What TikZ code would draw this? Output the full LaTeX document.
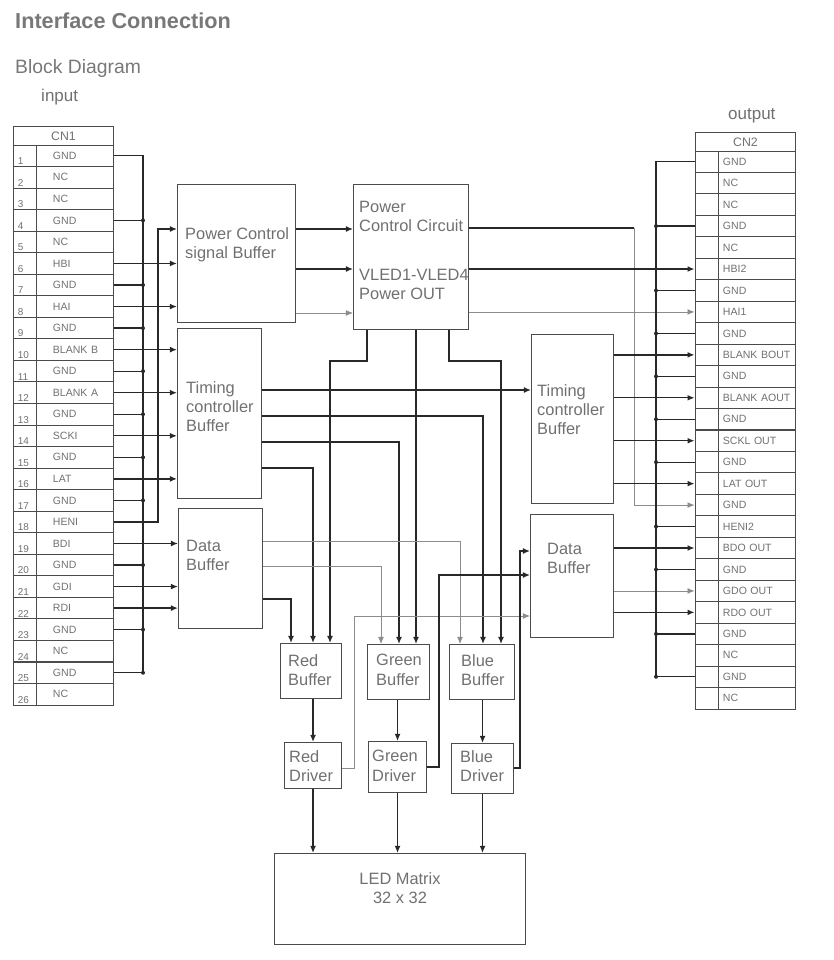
\documentclass[tikz,border=0pt]{standalone}
\usepackage{fontspec}
\setmainfont{Liberation Sans}
\usetikzlibrary{arrows.meta, positioning}
\definecolor{txtgray}{RGB}{112,112,112}
\definecolor{titlegray}{RGB}{120,120,120}
\definecolor{wiregray}{RGB}{40,40,40}
\definecolor{boxgray}{RGB}{75,75,75}
\definecolor{thingray}{RGB}{140,140,140}

\tikzset{
  blk/.style={draw=boxgray, line width=0.9pt, anchor=north west, inner sep=0pt},
  blktxt/.style={font=\fontsize{14}{16.5}\selectfont, text=txtgray, align=left, anchor=north west, inner sep=0pt},
  pinnum/.style={draw=boxgray, line width=0.8pt, minimum width=0.69cm, minimum height=0.645cm, inner sep=0pt},
  numtxt/.style={font=\fontsize{8.5}{10}\selectfont, text=txtgray, inner sep=0pt, anchor=base west},
  pinout/.style={draw=boxgray, line width=0.8pt, minimum height=0.645cm, inner xsep=0.12cm, inner ysep=0pt, text width=2.07cm, align=left, font=\fontsize{9}{10}\selectfont, text=txtgray},
  pinin/.style={pinout, execute at begin node={\hspace*{0.36cm}}},
  cnhead/.style={draw=boxgray, line width=0.8pt, minimum width=3cm, minimum height=0.57cm, inner sep=0pt, anchor=north west, font=\fontsize{10.5}{12}\selectfont, text=txtgray},
  wire/.style={draw=wiregray, line width=1.1pt},
  sig/.style={wire, -{Latex[length=6pt,width=5pt]}},
  sigthin/.style={draw=thingray, line width=0.7pt, -{Latex[length=6pt,width=5pt]}},
}

\begin{document}
\begin{tikzpicture}[x=0.03cm, y=-0.03cm]
  \useasboundingbox (0,0) rectangle (833,960);

  % headings
  \node[font=\bfseries\fontsize{18.5}{20}\selectfont, text=titlegray, anchor=north west, inner sep=0pt] (title) at (15,13) {Interface Connection};
  \node[font=\fontsize{16.5}{18}\selectfont, text=titlegray, anchor=north west, inner sep=0pt] (subtitle) at (15,59) {Block Diagram};
  \node[font=\fontsize{14.5}{16}\selectfont, text=txtgray, anchor=north west, inner sep=0pt] (inlbl) at (41,89) {input};
  \node[font=\fontsize{14.5}{16}\selectfont, text=txtgray, anchor=north west, inner sep=0pt] (outlbl) at (728,108) {output};

  % --- CN1 ---
  \node[cnhead] (cn1) at (13,126) {CN1};
  \foreach \i/\lbl in {1/GND,2/NC,3/NC,4/GND,5/NC,6/HBI,7/GND,8/HAI,9/GND,10/BLANK B,11/GND,12/BLANK A,13/GND,14/SCKI,15/GND,16/LAT,17/GND,18/HENI,19/BDI,20/GND,21/GDI,22/RDI,23/GND,24/NC,25/GND,26/NC}{
    \node[pinnum] (inn\i) at (24.5,{145+21.54*(\i-0.5)}) {};
    \node[numtxt] (innum\i) at ([xshift=0.15cm, yshift=0.07cm]inn\i.south west) {\i};
    \node[pinin, anchor=west] (in\i) at (inn\i.east) {\lbl};
  }

  % --- CN2 ---
  \node[cnhead] (cn2) at (695,132) {CN2};
  \foreach \i/\lbl in {1/GND,2/NC,3/NC,4/GND,5/NC,6/HBI2,7/GND,8/HAI1,9/GND,10/BLANK BOUT,11/GND,12/BLANK AOUT,13/GND,14/SCKL OUT,15/GND,16/LAT OUT,17/GND,18/HENI2,19/BDO OUT,20/GND,21/GDO OUT,22/RDO OUT,23/GND,24/NC,25/GND,26/NC}{
    \node[pinnum] (outn\i) at (706.5,{151+21.46*(\i-0.5)}) {};
    \node[pinout, anchor=west] (out\i) at (outn\i.east) {\lbl};
  }

  % --- blocks ---
  \node[blk, minimum width=3.54cm, minimum height=4.14cm] (pcsb) at (177,184) {};
  \node[blktxt] (pcsbtxt) at (185,227) {Power Control\\signal Buffer};
  \node[blk, minimum width=3.45cm, minimum height=4.35cm] (pcc) at (353,184) {};
  \node[blktxt] (pcctxt) at (359,201) {Power\\Control Circuit};
  \node[blktxt] (vledtxt) at (359,269) {VLED1-VLED4\\Power OUT};

  \node[blk, minimum width=2.52cm, minimum height=5.1cm] (tmgin) at (177,328) {};
  \node[blktxt] (tmgintxt) at (186,381) {Timing\\controller\\Buffer};
  \node[blk, minimum width=2.52cm, minimum height=3.6cm] (dbin) at (178,508) {};
  \node[blktxt] (dbintxt) at (186,540) {Data\\Buffer};

  \node[blk, minimum width=2.46cm, minimum height=5.07cm] (tmgout) at (531,334) {};
  \node[blktxt] (tmgouttxt) at (537,384) {Timing\\controller\\Buffer};
  \node[blk, minimum width=2.49cm, minimum height=3.69cm] (dbout) at (530,514) {};
  \node[blktxt] (dbouttxt) at (547,543) {Data\\Buffer};

  \node[blk, minimum width=1.83cm, minimum height=1.65cm] (redbuf) at (280,643) {};
  \node[blktxt] (redbuftxt) at (288,654) {Red\\Buffer};
  \node[blk, minimum width=1.86cm, minimum height=1.65cm] (grnbuf) at (367,644) {};
  \node[blktxt] (grnbuftxt) at (376,654) {Green\\Buffer};
  \node[blk, minimum width=1.95cm, minimum height=1.65cm] (blubuf) at (449,644) {};
  \node[blktxt] (blubuftxt) at (461,654) {Blue\\Buffer};

  \node[blk, minimum width=1.71cm, minimum height=1.38cm] (reddrv) at (284,742) {};
  \node[blktxt] (reddrvtxt) at (289,750) {Red\\Driver};
  \node[blk, minimum width=1.74cm, minimum height=1.53cm] (grndrv) at (368,741) {};
  \node[blktxt] (grndrvtxt) at (372,750) {Green\\Driver};
  \node[blk, minimum width=1.86cm, minimum height=1.5cm] (bludrv) at (451,743) {};
  \node[blktxt] (bludrvtxt) at (460,750) {Blue\\Driver};

  \node[blk, minimum width=7.53cm, minimum height=2.73cm] (led) at (274,853) {};
  \node[blktxt, anchor=north, align=center] (ledtxt) at (400,872) {LED Matrix\\32 x 32};

  % --- CN1 ground bus ---
  \coordinate (busin) at (143,0);
  \draw[wire] (in1.east) -| (in25.east -| busin) -- (in25.east);
  \foreach \i in {4,7,9,11,13,15,17,20,23,25}{
    \draw[wire] (in\i.east) -- (in\i.east -| busin);
    \fill[wiregray] (in\i.east -| busin) circle (1.7pt);
  }

  % --- CN1 signals ---
  \foreach \i in {6,8}{\draw[sig] (in\i.east) -- (in\i.east -| pcsb.west);}
  \foreach \i in {10,12,14,16}{\draw[sig] (in\i.east) -- (in\i.east -| tmgin.west);}
  \foreach \i in {19,21,22}{\draw[sig] (in\i.east) -- (in\i.east -| dbin.west);}
  \coordinate (heniturn) at (158,229);
  \draw[sig] (in18.east) -| (heniturn) -- (heniturn -| pcsb.west);

  % --- power path ---
  \draw[sig] (pcsb.east |- 0,229) -- (pcc.west |- 0,229);
  \draw[sig] (pcsb.east |- 0,269) -- (pcc.west |- 0,269);
  \draw[sigthin] (pcsb.east |- 0,313) -- (pcc.west |- 0,313);
  \coordinate (pwrturn) at (634,228);
  \draw[wire] (pcc.east |- pwrturn) -- (pwrturn);
  \draw[sigthin] (pwrturn) |- (outn17.west);
  \draw[sig] (pcc.east |- outn6.west) -- (outn6.west);
  \draw[sigthin] (pcc.east |- outn8.west) -- (outn8.west);
  \draw[sig] (pcc.south -| 367,0) |- (330,361) -- (redbuf.north -| 330,0);
  \draw[sig] (pcc.south -| 416,0) -- (grnbuf.north -| 416,0);
  \draw[sig] (pcc.south -| 449,0) |- (501,361) -- (blubuf.north -| 501,0);

  % --- timing ---
  \draw[sig] (tmgin.east |- 0,390) -- (tmgout.west |- 0,390);
  \draw[sig] (tmgin.east |- 0,416) -| (blubuf.north -| 483,0);
  \draw[sig] (tmgin.east |- 0,442) -| (grnbuf.north -| 399,0);
  \draw[sig] (tmgin.east |- 0,468) -| (redbuf.north -| 313,0);
  \foreach \i in {10,12,14,16}{\draw[sig] (tmgout.east |- outn\i.west) -- (outn\i.west);}

  % --- data ---
  \draw[sigthin] (dbin.east |- 0,541) -| (blubuf.north -| 460,0);
  \draw[sigthin] (dbin.east |- 0,566) -| (grnbuf.north -| 381,0);
  \draw[sig] (dbin.east |- 0,599) -| (redbuf.north -| 291,0);
  \draw[sig] (dbout.east |- outn19.west) -- (outn19.west);
  \draw[sigthin] (dbout.east |- outn21.west) -- (outn21.west);
  \draw[sig] (dbout.east |- outn22.west) -- (outn22.west);

  % --- buffers, drivers, matrix ---
  \draw[sig] (redbuf.south -| reddrv.north) -- (reddrv.north);
  \draw[sig] (grnbuf.south -| grndrv.north) -- (grndrv.north);
  \draw[sig] (blubuf.south -| bludrv.north) -- (bludrv.north);
  \draw[sig] (reddrv.south) -- (reddrv.south |- led.north);
  \draw[sig] (grndrv.south) -- (grndrv.south |- led.north);
  \draw[sig] (bludrv.south) -- (bludrv.south |- led.north);
  \draw[sigthin] (reddrv.east |- 0,768) -| (354,616) -- (dbout.west |- 0,616);
  \draw[sig] (grndrv.east |- 0,767) -| (439,575) -- (dbout.west |- 0,575);
  \draw[sig] (bludrv.east |- 0,768) -| (520,551) -- (dbout.west |- 0,551);

  % --- CN2 ground bus ---
  \coordinate (busout) at (656,0);
  \draw[wire] (outn1.west) -| (outn25.west -| busout) -- (outn25.west);
  \foreach \i in {4,7,9,11,13,15,18,20,23,25}{
    \draw[wire] (outn\i.west) -- (outn\i.west -| busout);
    \fill[wiregray] (outn\i.west -| busout) circle (1.7pt);
  }
\end{tikzpicture}
\end{document}
